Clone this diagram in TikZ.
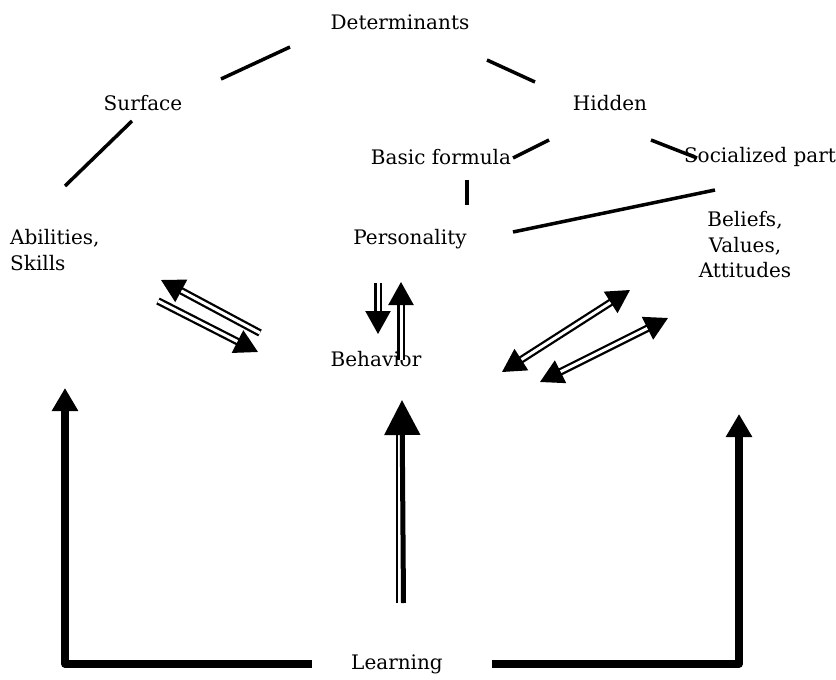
\documentclass[tikz,border=0pt]{standalone}
\usepackage{fontspec}
\setmainfont{DejaVu Serif}
\usetikzlibrary{arrows.meta,calc}
\begin{document}
\begin{tikzpicture}[x=1pt,y=-1pt,
  lbl/.style={inner sep=0pt, font=\fontsize{20}{25.5}\selectfont},
  conn/.style={line width=3.5pt},
  dbl/.style={double, double distance=3pt, line width=2.3pt},
  tip/.tip={Triangle[width=25pt,length=23pt]},
  onehead/.style={dbl, -tip},
  twohead/.style={dbl, tip-tip},
  learn/.style={line width=7.5pt, line join=round, -{Triangle[width=25pt,length=23pt]}}]
\useasboundingbox (0,0) rectangle (836,680);
% texts
\node[lbl] (det) at (400,22) {Determinants};
\node[lbl] (sur) at (143,103) {Surface};
\node[lbl] (hid) at (610,103) {Hidden};
\node[lbl] (bas) at (441,157) {Basic formula};
\node[lbl] (soc) at (760,157) {Socialized part};
\node[lbl, align=left, anchor=west] (abi) at (10,250) {Abilities,\\Skills};
\node[lbl] (per) at (410,239) {Personality};
\node[lbl, align=center] (bel) at (745,245) {Beliefs,\\Values,\\Attitudes};
\node[lbl] (beh) at (376,359) {Behavior};
\node[lbl] (lea) at (397,664) {Learning};
% connector end points
\coordinate (d1) at (290,47);  \coordinate (s1) at (221,79);
\coordinate (d2) at (487,60);  \coordinate (h1) at (535,82);
\coordinate (s2) at (132,121); \coordinate (a1) at (65,186);
\coordinate (h2) at (549,140); \coordinate (bf1) at (513,158);
\coordinate (h3) at (651,140); \coordinate (sp1) at (697,158);
\coordinate (bf2) at (467,180); \coordinate (p1) at (467,205);
\coordinate (sp2) at (715,190); \coordinate (p2) at (513,232);
% tree lines
\draw[conn] (d1) -- (s1);
\draw[conn] (d2) -- (h1);
\draw[conn] (s2) -- (a1);
\draw[conn] (h2) -- (bf1);
\draw[conn] (h3) -- (sp1);
\draw[conn] (bf2) -- (p1);
\draw[conn] (sp2) -- (p2);
% abilities <-> behavior
\coordinate (ab1s) at (260,333); \coordinate (ab1t) at (161,280);
\coordinate (ab2s) at (158,301); \coordinate (ab2t) at (258,352);
\draw[onehead] (ab1s) -- (ab1t);
\draw[onehead] (ab2s) -- (ab2t);
% personality <-> behavior
\coordinate (pb1s) at (378,283); \coordinate (pb1t) at (378,334);
\coordinate (pb2s) at (401,360); \coordinate (pb2t) at (401,282);
\draw[onehead] (pb1s) -- (pb1t);
\draw[onehead] (pb2s) -- (pb2t);
% beliefs <-> behavior
\coordinate (bb1a) at (502,372); \coordinate (bb1b) at (630,290);
\coordinate (bb2a) at (540,382); \coordinate (bb2b) at (668,318);
\draw[twohead] (bb1a) -- (bb1b);
\draw[twohead] (bb2a) -- (bb2b);
% learning -> behavior
\coordinate (lb0) at (403.5,603); \coordinate (lbt) at (402,400);
\coordinate (lt0) at (397,603); \coordinate (lt1) at (397,433);
\draw[line width=1.7pt] (lt0) -- (lt1);
\draw[line width=5pt, -{Triangle[width=35pt,length=35pt]}] (lb0) -- (lbt);
% learning -> abilities, beliefs
\coordinate (ll) at (312,664); \coordinate (ltip) at (65,388);
\coordinate (lr) at (492,664); \coordinate (rtip) at (739,414);
\draw[learn] (ll) -| (ltip);
\draw[learn] (lr) -| (rtip);
\end{tikzpicture}
\end{document}
